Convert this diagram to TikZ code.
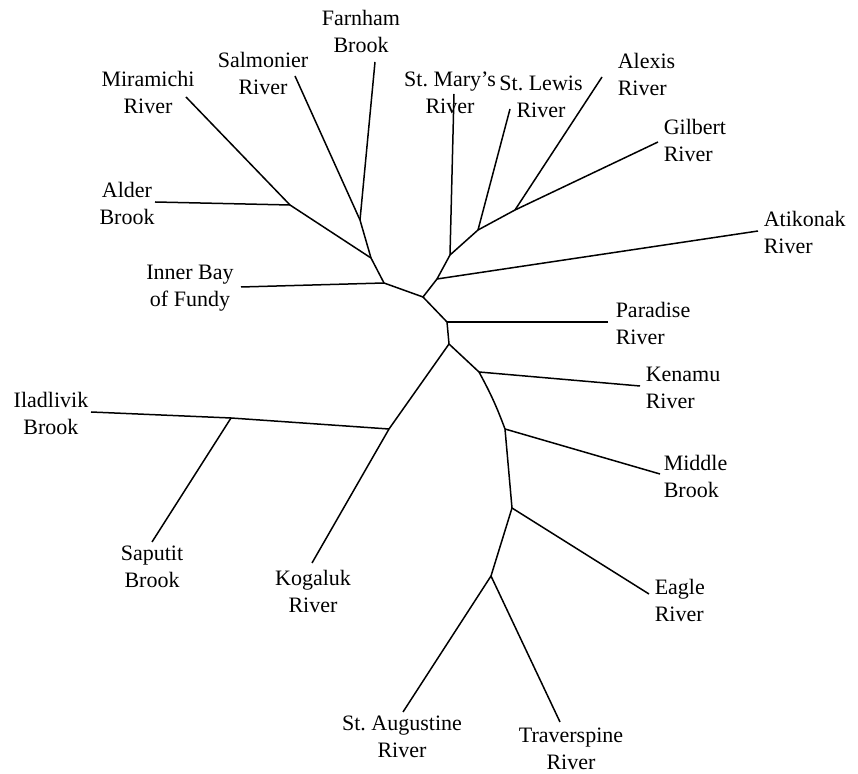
\documentclass[tikz,border=0pt]{standalone}
\usepackage{fontspec}
\setmainfont{Liberation Serif}
\usepackage{tikz}
\frenchspacing

\begin{document}
\begin{tikzpicture}[x=0.5pt, y=-0.5pt, line width=0.75pt,
  lbl/.style={inner sep=0pt, align=center, font=\fontsize{11}{13.5}\selectfont},
  lblr/.style={lbl, align=left, anchor=west}]
\useasboundingbox (0,0) rectangle (858,774);
% junctions
\coordinate (jMA) at (290,205);
\coordinate (jSF) at (360,220);
\coordinate (jW1) at (371,258);
\coordinate (jW2) at (384,283);
\coordinate (root) at (423,297);
\coordinate (jE1) at (437,279);
\coordinate (jE2) at (450,255);
\coordinate (jE3) at (478,230);
\coordinate (jE4) at (515,210);
\coordinate (jP) at (447,322);
\coordinate (jS) at (449,344);
\coordinate (jIK) at (389,429);
\coordinate (jIS) at (231,418);
\coordinate (jKen) at (479,372);
\coordinate (jMid) at (505,429);
\coordinate (jEag) at (512,508);
\coordinate (jAT) at (491,576);
% leaf tips
\coordinate (tMir) at (186,97);
\coordinate (tAld) at (155,202);
\coordinate (tSal) at (295,76);
\coordinate (tFar) at (375,62);
\coordinate (tInn) at (241,287);
\coordinate (tMar) at (454,94);
\coordinate (tLew) at (510,109);
\coordinate (tAle) at (602,77);
\coordinate (tGil) at (658,142);
\coordinate (tAti) at (758,231);
\coordinate (tPar) at (608,322);
\coordinate (tKen) at (640,386);
\coordinate (tMid) at (660,474);
\coordinate (tEag) at (649,594);
\coordinate (tTra) at (560,722);
\coordinate (tAug) at (403,712);
\coordinate (tKog) at (312,563);
\coordinate (tSap) at (152,542);
\coordinate (tIla) at (91,412);
% labels
\node[lbl] (Mir) at (148,92) {Miramichi\\River};
\node[lbl] (Sal) at (263,73) {Salmonier\\River};
\node[lbl] (Far) at (361,31) {Farnham\\Brook};
\node[lbl] (Ald) at (127,203) {Alder\\Brook};
\node[lbl] (Inn) at (190,288) {Inner Bay\\of Fundy};
\node[lbl] (Mar) at (450,93) {St. Mary’s\\River};
\node[lbl] (Lew) at (541,97) {St. Lewis\\River};
\node[lblr] (Ale) at (617,74) {Alexis\\River};
\node[lblr] (Gil) at (663,140) {Gilbert\\River};
\node[lblr] (Ati) at (763,232) {Atikonak\\River};
\node[lblr] (Par) at (615,323) {Paradise\\River};
\node[lblr] (Ken) at (645,388) {Kenamu\\River};
\node[lblr] (Mid) at (663,476) {Middle\\Brook};
\node[lblr] (Eag) at (654,600) {Eagle\\River};
\node[lbl] (Tra) at (571,749) {Traverspine\\River};
\node[lbl] (Aug) at (402,737) {St. Augustine\\River};
\node[lbl] (Kog) at (313,591) {Kogaluk\\River};
\node[lbl] (Sap) at (152,567) {Saputit\\Brook};
\node[lbl] (Ila) at (51,413) {Iladlivik\\Brook};
% branches
\draw (tMir) -- (jMA) -- (jW1) -- (jW2) -- (root) -- (jE1) -- (jE2) -- (jE3) -- (jE4) -- (tGil);
\draw (tAld) -- (jMA);
\draw (tSal) -- (jSF) -- (jW1);
\draw (tFar) -- (jSF);
\draw (tInn) -- (jW2);
\draw (tAti) -- (jE1);
\draw (tMar) -- (jE2);
\draw (tLew) -- (jE3);
\draw (tAle) -- (jE4);
\draw (root) -- (jP) -- (jS) -- (jKen) to[bend left=4] (jMid) -- (jEag) -- (jAT) -- (tTra);
\draw (tPar) -- (jP);
\draw (tKen) -- (jKen);
\draw (tMid) -- (jMid);
\draw (tEag) -- (jEag);
\draw (tAug) -- (jAT);
\draw (jS) -- (jIK) -- (tKog);
\draw (jIK) -- (jIS) -- (tIla);
\draw (tSap) -- (jIS);
\end{tikzpicture}
\end{document}
